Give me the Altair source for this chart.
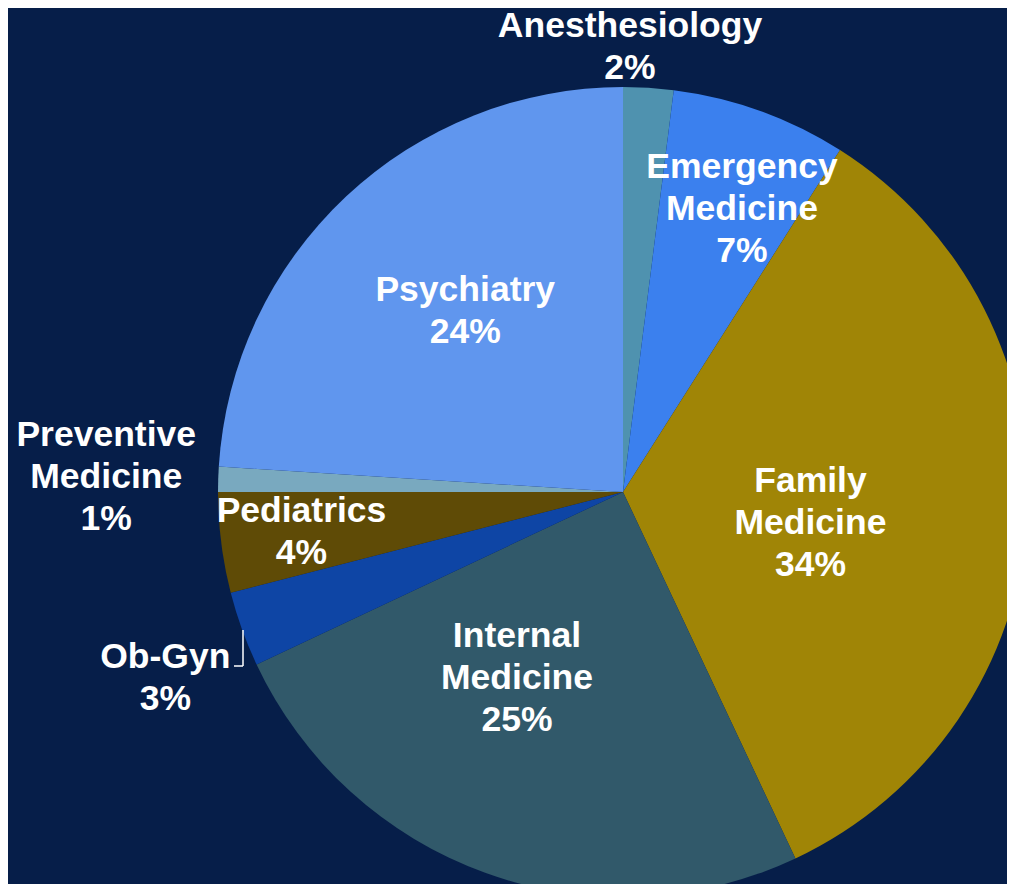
import math
import altair as alt
import pandas as pd

# ---- data ----
specialties = ["Anesthesiology", "Emergency Medicine", "Family Medicine", "Internal Medicine",
               "Ob-Gyn", "Pediatrics", "Preventive Medicine", "Psychiatry"]
percents = [2, 7, 34, 25, 3, 4, 1, 24]
label_text = ["Anesthesiology\n2%", "Emergency\nMedicine\n7%", "Family\nMedicine\n34%",
              "Internal\nMedicine\n25%", "Ob-Gyn\n3%", "Pediatrics\n4%",
              "Preventive\nMedicine\n1%", "Psychiatry\n24%"]

# ---- styling / label placement ----
colors = ["#4F92AF", "#3B80EE", "#A08506", "#31596A", "#0E45A5", "#5F4B06", "#79A9BF", "#6096EE"]
label_nudge_deg = [-2.7, 3.0, 5.8, 9.9, -2.3, 0.1, -0.1, 2.1]
label_radius = [445, 307, 190, 214, 494, 324, 517, 240]
CX, CY, R = 615, 484, 405
BG = "#061E49"
FS, LH = 35.5, 42

total = sum(percents)
rows = []
cum = 0
for i, (s, p) in enumerate(zip(specialties, percents)):
    mid = (cum + p / 2) / total * 2 * math.pi
    cum += p
    rows.append({
        "specialty": s, "pct": p, "order": i, "label": label_text[i],
        "nlines": label_text[i].count("\n") + 1,
        "label_theta": mid + math.radians(label_nudge_deg[i]),
        "label_r": label_radius[i],
    })
df = pd.DataFrame(rows)

base = alt.Chart(df)

arcs = base.mark_arc(outerRadius=R, stroke=None).encode(
    theta=alt.Theta("pct:Q", stack=True),
    color=alt.Color("specialty:N", scale=alt.Scale(domain=specialties, range=colors), legend=None),
    order=alt.Order("order:Q"),
    x=alt.value(CX),
    y=alt.value(CY),
)

label_layers = []
for n in (2, 3):
    label_layers.append(
        base.transform_filter(alt.datum.nlines == n).mark_text(
            font="Liberation Sans", fontWeight="bold", fontSize=FS, lineHeight=LH,
            color="white", align="center", baseline="middle", lineBreak="\n",
            dy=-(n - 1) * LH / 2,
        ).encode(
            theta=alt.Theta("label_theta:Q", scale=None),
            radius=alt.Radius("label_r:Q", scale=None),
            text="label:N",
            x=alt.value(CX),
            y=alt.value(CY),
        )
    )

# leader bracket for Ob-Gyn label
lead_v = alt.Chart(pd.DataFrame({"k": [0]})).mark_rule(color="white", strokeWidth=1.5).encode(
    x=alt.value(235), y=alt.value(622), y2=alt.value(658))
lead_h = alt.Chart(pd.DataFrame({"k": [0]})).mark_rule(color="white", strokeWidth=1.5).encode(
    x=alt.value(226), x2=alt.value(235), y=alt.value(658))

chart = alt.layer(arcs, *label_layers, lead_v, lead_h).properties(
    width=999, height=876, padding=0, autosize=alt.AutoSizeParams(type="none"),
    background=BG,
).configure_view(stroke=None)

chart.save("out.html", embed_options={"renderer": "svg", "actions": False})
